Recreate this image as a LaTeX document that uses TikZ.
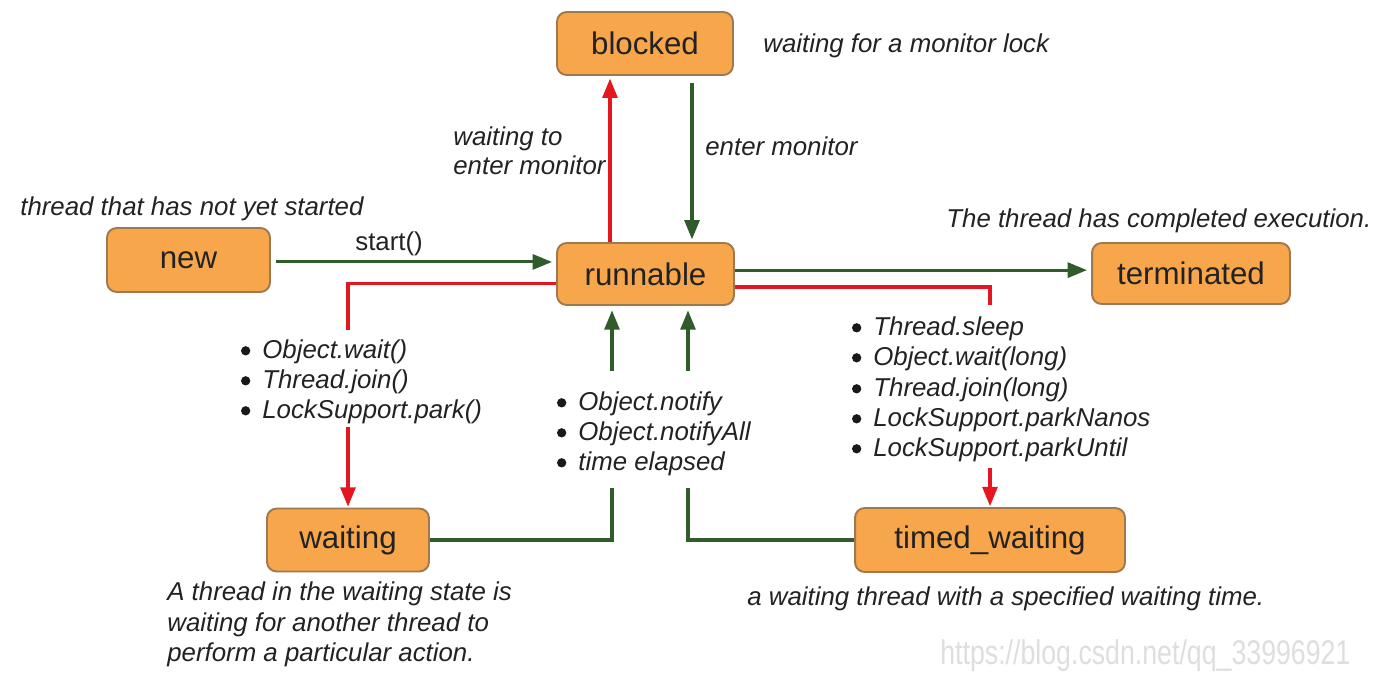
\documentclass[tikz,border=0pt]{standalone}
\usepackage{fontspec}
\setmainfont{Liberation Sans}
\usetikzlibrary{arrows.meta}
\definecolor{stfill}{RGB}{248,166,76}
\definecolor{stdraw}{RGB}{160,120,78}
\definecolor{grn}{RGB}{48,92,44}
\definecolor{rd}{RGB}{228,22,32}
\definecolor{txt}{RGB}{34,34,34}
\begin{document}
\begin{tikzpicture}[x=0.02cm,y=-0.02cm,
  state/.style={draw=stdraw, fill=stfill, line width=1.1pt, rounded corners=5.5pt, inner sep=0pt, text=txt, font=\fontsize{17.8}{20}\selectfont},
  lbl/.style={anchor=base west, inner sep=0pt, text=txt, font=\fontsize{14.7}{17.3}\selectfont\itshape},
  glin/.style={draw=grn, line width=1.75pt},
  rlin/.style={draw=rd, line width=1.75pt},
  garr/.style={glin, -{Triangle[length=11pt,width=8.5pt]}},
  rarr/.style={rlin, -{Triangle[length=11pt,width=8.5pt]}},
  bulletdot/.style={circle, fill=black!90, inner sep=0pt, minimum size=5.3pt},
]
\useasboundingbox (0,0) rectangle (1396,680);

% states
\node[state, minimum width=3.52cm, minimum height=1.26cm] (blocked) at (645,43.5) {blocked};
\node[state, minimum width=3.54cm, minimum height=1.24cm] (runnable) at (645.5,274) {runnable};
\node[state, minimum width=3.26cm, minimum height=1.28cm] (new) at (188.5,260) {new};
\node[state, minimum width=3.96cm, minimum height=1.22cm] (terminated) at (1191,273.5) {terminated};
\node[state, minimum width=3.24cm, minimum height=1.26cm] (waiting) at (348,540) {waiting};
\node[state, minimum width=5.40cm, minimum height=1.28cm] (timed) at (990,540) {timed\_waiting};

% helper coordinates
\coordinate (xA) at (610,0);
\coordinate (xB) at (692,0);
\coordinate (rl1) at (348,330);
\coordinate (rl2) at (348,427);
\coordinate (rr1) at (990,305);
\coordinate (rr2) at (990,468);
\coordinate (gl1) at (612,488);
\coordinate (gl2) at (612,371);
\coordinate (gr1) at (688,488);
\coordinate (gr2) at (688,371);

% connectors
\draw[rarr, shorten >=1.5pt] (runnable.north -| xA) -- (blocked.south -| xA);
\draw[garr, shorten <=4pt, shorten >=1.5pt] (blocked.south -| xB) -- (runnable.north -| xB);
\draw[garr, shorten <=2.8pt, shorten >=2.3pt] ([yshift=-1.1pt]new.east) -- ([yshift=-1.1pt]new.east -| runnable.west);
\draw[garr, shorten >=2.3pt] ([yshift=2.2pt]runnable.east) -- ([yshift=2.2pt]runnable.east -| terminated.west);
\draw[rlin] ([yshift=-5.6pt]runnable.west) -| (rl1);
\draw[rarr, shorten >=0.5pt] (rl2) -- (waiting.north);
\draw[rlin] ([yshift=-7.4pt]runnable.east) -| (rr1);
\draw[rarr, shorten >=0.5pt] (rr2) -- (timed.north);
\draw[glin] (waiting.east) -| (gl1);
\draw[garr, shorten >=2.5pt] (gl2) -- (runnable.south -| gl2);
\draw[glin] (timed.west) -| (gr1);
\draw[garr, shorten >=2.5pt] (gr2) -- (runnable.south -| gr2);

% labels
\node[lbl] (blkNote) at (763,52) {waiting for a monitor lock};
\node[lbl] (wtmA) at (453,145) {waiting to};
\node[lbl] (wtmB) at (453,174) {enter monitor};
\node[lbl] (entMon) at (705,155) {enter monitor};
\node[lbl] (newNote) at (20,215) {thread that has not yet started};
\node[lbl, font=\fontsize{14.7}{17.3}\selectfont] (startLbl) at (355,250) {start()};
\node[lbl] (termNote) at (946,227) {The thread has completed execution.};

\node[lbl] (l1) at (262,358) {Object.wait()};
\node[lbl] (l2) at (262,388) {Thread.join()};
\node[lbl] (l3) at (262,418) {LockSupport.park()};

\node[lbl] (m1) at (578,410) {Object.notify};
\node[lbl] (m2) at (578,440) {Object.notifyAll};
\node[lbl] (m3) at (578,470) {time elapsed};

\node[lbl] (r1) at (873,335) {Thread.sleep};
\node[lbl] (r2) at (873,365) {Object.wait(long)};
\node[lbl] (r3) at (873,396) {Thread.join(long)};
\node[lbl] (r4) at (873,426) {LockSupport.parkNanos};
\node[lbl] (r5) at (873,456) {LockSupport.parkUntil};

\foreach \n in {l1,l2,l3,m1,m2,m3,r1,r2,r3,r4,r5}
  \node[bulletdot] (b\n) at ([xshift=-9.3pt,yshift=4.1pt]\n.base west) {};

\node[lbl] (wn1) at (167,600) {A thread in the waiting state is};
\node[lbl] (wn2) at (167,631) {waiting for another thread to};
\node[lbl] (wn3) at (167,661) {perform a particular action.};

\node[lbl] (tNote) at (747,605) {a waiting thread with a specified waiting time.};

\node[anchor=base west, inner sep=0pt, text=black!13, font=\fontsize{19.5}{20}\selectfont] (wm) at (940,664) {\scalebox{0.78}[1]{https://blog.csdn.net/qq\_33996921}};
\end{tikzpicture}
\end{document}
